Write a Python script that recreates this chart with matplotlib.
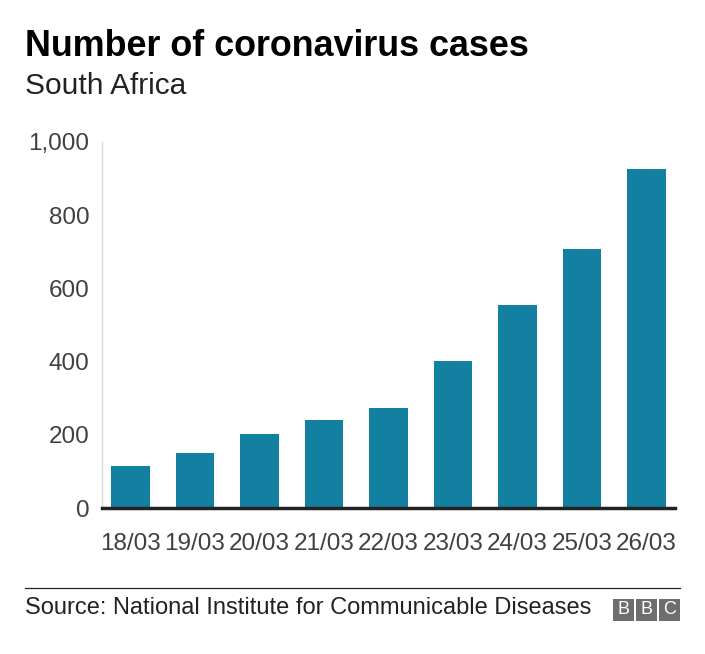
"""Bar chart of coronavirus cases in South Africa (BBC style)."""

import matplotlib.pyplot as plt
from matplotlib.patches import Rectangle

dates = ["18/03", "19/03", "20/03", "21/03", "22/03", "23/03", "24/03", "25/03", "26/03"]
cases = [116, 150, 202, 240, 274, 402, 554, 709, 927]
y_ticks = [0, 200, 400, 600, 800, 1000]
y_tick_labels = ["0", "200", "400", "600", "800", "1,000"]

plt.rcParams["font.family"] = ["Liberation Sans", "DejaVu Sans"]

fig = plt.figure(figsize=(7.05, 6.54), dpi=100)
ax = fig.add_axes([0.1447, 0.2232, 0.8127, 0.5597])

ax.bar(range(len(dates)), cases, width=0.6, color="#1380A1", zorder=2)
ax.set_xlim(-0.44, len(dates) - 0.56)
ax.set_ylim(0, 1000)
ax.set_xticks(range(len(dates)))
ax.set_xticklabels(dates)
ax.set_yticks(y_ticks)
ax.set_yticklabels(y_tick_labels)
ax.tick_params(axis="both", length=0, labelsize=17.5, colors="#404040")
ax.tick_params(axis="x", pad=18)
ax.tick_params(axis="y", pad=9)

for side in ("top", "right"):
    ax.spines[side].set_visible(False)
ax.spines["left"].set_color("#d9d9d9")
ax.spines["left"].set_linewidth(1)
ax.spines["bottom"].set_color("#222222")
ax.spines["bottom"].set_linewidth(2.5)
ax.spines["bottom"].set_zorder(3)

fig.text(25 / 705, 1 - 47 / 654, "Number of coronavirus cases", fontsize=25.8,
         fontweight="bold", color="#000000", va="center", ha="left")
fig.text(25 / 705, 1 - 86 / 654, "South Africa", fontsize=21.5, color="#222222",
         va="center", ha="left")

# footer rule and source
fig.add_artist(plt.Line2D([25 / 705, 680 / 705], [1 - 588 / 654, 1 - 588 / 654],
                          color="#222222", linewidth=0.9))
fig.text(25 / 705, 1 - 608 / 654, "Source: National Institute for Communicable Diseases",
         fontsize=17, color="#222222", va="center", ha="left")

# BBC blocks
box_w, box_h, gap = 21 / 705, 22 / 654, 2 / 705
x0, y0 = 613 / 705, 1 - 621 / 654
for i, letter in enumerate("BBC"):
    bx = x0 + i * (box_w + gap)
    fig.add_artist(Rectangle((bx, y0), box_w, box_h, transform=fig.transFigure,
                             facecolor="#6e6e6e", edgecolor="none"))
    fig.text(bx + box_w / 2, y0 + box_h / 2, letter, fontsize=13,
             color="white", ha="center", va="center")

fig.savefig("out.png", dpi=100, facecolor="white")
